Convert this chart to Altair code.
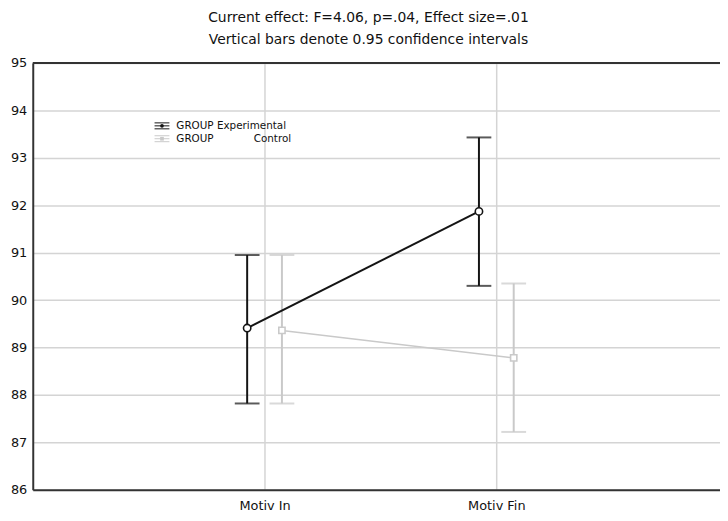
import altair as alt
import pandas as pd

# ---- data ----
times = ["Motiv In", "Motiv Fin"]
time_pos = [1, 2]
groups = ["Experimental", "Control"]
exp_mean = [89.41, 91.87]
exp_lo = [87.82, 90.30]
exp_hi = [90.95, 93.43]
ctl_mean = [89.36, 88.78]
ctl_lo = [87.82, 87.22]
ctl_hi = [90.95, 90.35]
y_ticks = list(range(86, 96))
title_lines = ["Current effect: F=4.06, p=.04, Effect size=.01",
               "Vertical bars denote 0.95 confidence intervals"]

rows = []
for g, m, lo, hi in [("Experimental", exp_mean, exp_lo, exp_hi),
                     ("Control", ctl_mean, ctl_lo, ctl_hi)]:
    for t, p, mm, l, h in zip(times, time_pos, m, lo, hi):
        rows.append({"group": g, "time": t, "pos": p, "mean": mm, "lo": l, "hi": h})
df = pd.DataFrame(rows)

FONT = "DejaVu Sans"
W, H = 694, 431
xscale = alt.Scale(domain=[0, 2.965], nice=False, zero=False)
yscale = alt.Scale(domain=[86, 95], nice=False, zero=False)
cscale = alt.Scale(domain=groups, range=["#141414", "#c9c9c9"])

base = alt.Chart(df).transform_calculate(
    xpos="datum.pos + (datum.group == 'Experimental' ? -0.075 : 0.075)"
)

xenc = alt.X("xpos:Q", scale=xscale, axis=alt.Axis(
    values=[1, 2], labelExpr="datum.value == 1 ? 'Motiv In' : 'Motiv Fin'",
    title=None, grid=True, ticks=False, labelPadding=10))
yenc_axis = alt.Axis(values=y_ticks, title=None, grid=True, ticks=False, labelPadding=6)

def layers_for(g):
    b = base.transform_filter(f"datum.group == '{g}'")
    color = alt.Color("group:N", scale=cscale, legend=None)
    err = b.mark_rule(strokeWidth=2).encode(
        x=xenc, y=alt.Y("lo:Q", scale=yscale, axis=yenc_axis), y2="hi:Q", color=color)
    caps = b.transform_fold(["lo", "hi"], as_=["k", "v"]).mark_tick(
        orient="horizontal", size=25, thickness=2).encode(
        x=xenc, y=alt.Y("v:Q", scale=yscale), color=color)
    line = b.mark_line(strokeWidth=2 if g == "Experimental" else 1.5).encode(
        x=xenc, y=alt.Y("mean:Q", scale=yscale), color=color, order="pos:Q")
    pts = b.mark_point(
        shape="circle" if g == "Experimental" else "square",
        size=55 if g == "Experimental" else 40,
        filled=False, fill="white", fillOpacity=1, opacity=1, strokeWidth=1.6).encode(
        x=xenc, y=alt.Y("mean:Q", scale=yscale), color=color)
    return [err, caps, line, pts]

main = layers_for("Control") + layers_for("Experimental")

# top border
one = pd.DataFrame({"a": [0]})
top = alt.Chart(one).mark_rule(color="#333333", strokeWidth=2).encode(
    x=alt.value(0), x2=alt.value(W), y=alt.value(0))

# titles
title_df = pd.DataFrame({"t": title_lines, "yy": [-41, -19]})
titles = alt.Chart(title_df).mark_text(
    font=FONT, fontSize=14, color="#111111", baseline="alphabetic", align="center"
).encode(text="t:N", x=alt.value(339), y=alt.Y("yy:Q", scale=None))

# custom legend
R1, R2 = 63.5, 76.5
leg_lines = pd.DataFrame({
    "yy": [R1 - 3, R1, R1 + 3, R2 - 3, R2, R2 + 3],
    "group": ["Experimental"] * 3 + ["Control"] * 3,
})
leg_rules = alt.Chart(leg_lines).mark_rule(strokeWidth=1).encode(
    x=alt.value(123), x2=alt.value(138), y=alt.Y("yy:Q", scale=None),
    color=alt.Color("group:N", scale=cscale, legend=None))
leg_pts_df = pd.DataFrame({"group": groups, "yy": [R1, R2]})
leg_pts = alt.Chart(leg_pts_df).mark_point(filled=True, size=14, opacity=1).encode(
    x=alt.value(130.5), y=alt.Y("yy:Q", scale=None),
    color=alt.Color("group:N", scale=cscale, legend=None),
    shape=alt.Shape("group:N", scale=alt.Scale(domain=groups, range=["circle", "square"]), legend=None))
leg_txt_df = pd.DataFrame({"t": ["GROUP Experimental", "GROUP"], "yy": [R1, R2]})
leg_txt = alt.Chart(leg_txt_df).mark_text(
    font=FONT, fontSize=10.5, color="#111111", align="left", baseline="middle"
).encode(text="t:N", x=alt.value(145), y=alt.Y("yy:Q", scale=None))
leg_txt2 = alt.Chart(pd.DataFrame({"t": ["Control"], "yy": [R2]})).mark_text(
    font=FONT, fontSize=10.5, color="#111111", align="right", baseline="middle"
).encode(text="t:N", x=alt.value(261), y=alt.Y("yy:Q", scale=None))

chart = alt.layer(*main, top, titles, leg_rules, leg_pts, leg_txt, leg_txt2).properties(
    width=W, height=H,
    autosize=alt.AutoSizeParams(type="none"),
    padding={"left": 25, "top": 53, "right": 0, "bottom": 28},
).configure_view(stroke=None).configure_axis(
    labelFont=FONT, labelFontSize=13, labelColor="#111111",
    domainColor="#333333", domainWidth=2,
    gridColor="#d4d4d4", gridWidth=1.5,
).configure_axisX(labelFontSize=13)

chart.save("out.html", embed_options={"renderer": "svg", "actions": False})
